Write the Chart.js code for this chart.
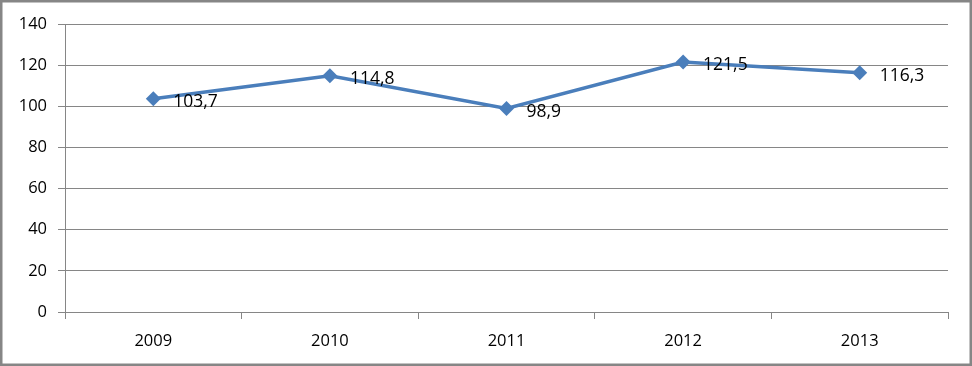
<!DOCTYPE html>
<html>
<head>
<meta charset="utf-8">
<script src="https://cdn.jsdelivr.net/npm/chart.js@4/dist/chart.umd.min.js"></script>
<style>
  html, body { margin: 0; padding: 0; background: #fff; }
  #wrap { width: 972px; height: 366px; position: relative; }
</style>
</head>
<body>
<div id="wrap"><canvas id="grafico" width="972" height="366"></canvas></div>
<script>
// datos del gráfico
const anios = ["2009", "2010", "2011", "2012", "2013"];
const valores = [103.7, 114.8, 98.9, 121.5, 116.3];
const etiquetas = ["103,7", "114,8", "98,9", "121,5", "116,3"];
const ticksY = [0, 20, 40, 60, 80, 100, 120, 140];

const gris = "#868686";
const azul = "#4A7EBB";
const fuente = "'Open Sans', 'Liberation Sans', sans-serif";

// etiquetas de datos a la derecha de cada punto
const etiquetasPlugin = {
  id: "etiquetas",
  afterDatasetsDraw(chart) {
    const ctx = chart.ctx;
    const meta = chart.getDatasetMeta(0);
    ctx.save();
    ctx.font = "17.5px " + fuente;
    ctx.fillStyle = "#000";
    ctx.textAlign = "left";
    ctx.textBaseline = "middle";
    meta.data.forEach((p, i) => {
      ctx.fillText(etiquetas[i], p.x + 20, p.y + 3);
    });
    ctx.restore();
  }
};

// borde exterior del gráfico
const bordePlugin = {
  id: "borde",
  afterDraw(chart) {
    const ctx = chart.ctx;
    ctx.save();
    ctx.strokeStyle = gris;
    ctx.lineWidth = 2.5;
    ctx.strokeRect(1.25, 1.25, chart.width - 2.5, chart.height - 2.5);
    ctx.restore();
  }
};

new Chart(document.getElementById("grafico").getContext("2d"), {
  type: "line",
  data: {
    labels: anios,
    datasets: [
      {
        data: valores,
        borderColor: azul,
        backgroundColor: azul,
        borderWidth: 3.5,
        pointStyle: "rectRot",
        pointRadius: 7.5,
        pointHoverRadius: 7.5,
        pointBackgroundColor: azul,
        pointBorderColor: azul,
        pointBorderWidth: 0,
        tension: 0
      }
    ]
  },
  options: {
    responsive: false,
    animation: false,
    layout: { padding: { left: 0, top: 24, right: 24, bottom: 0 } },
    plugins: {
      legend: { display: false },
      tooltip: { enabled: false }
    },
    scales: {
      x: {
        offset: true,
        grid: {
          offset: true,
          drawOnChartArea: false,
          drawTicks: true,
          tickLength: 7,
          color: gris
        },
        border: { color: gris, width: 1 },
        ticks: {
          color: "#000",
          font: { size: 16.5, family: fuente },
          padding: 12,
          maxRotation: 0
        },
        afterFit(scale) {
          scale.height = 54;
        }
      },
      y: {
        min: 0,
        max: 140,
        afterBuildTicks(scale) {
          scale.ticks = ticksY.map((v) => ({ value: v }));
        },
        grid: {
          color: gris,
          tickLength: 7,
          drawTicks: true
        },
        border: { color: gris, width: 1 },
        ticks: {
          color: "#000",
          font: { size: 16.5, family: fuente },
          padding: 11
        },
        afterFit(scale) {
          scale.width = 65;
        }
      }
    }
  },
  plugins: [etiquetasPlugin, bordePlugin]
});
</script>
</body>
</html>
